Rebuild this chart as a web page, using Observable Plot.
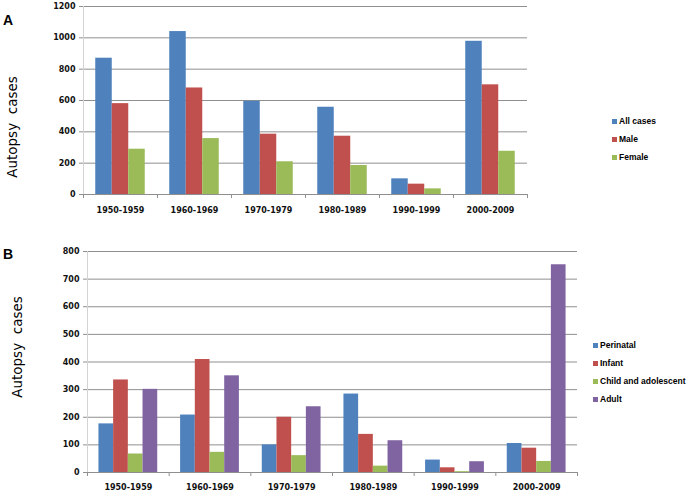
<!DOCTYPE html>
<html><head><meta charset="utf-8">
<script src="https://cdn.jsdelivr.net/npm/d3@7"></script>
<script src="https://cdn.jsdelivr.net/npm/@observablehq/plot@0.6"></script>
<style>
body{margin:0;background:#fff;}
#wrap{position:relative;width:689px;height:494px;overflow:hidden;font-family:"DejaVu Sans",sans-serif;}
.panel{position:absolute;left:0;}
.letter{position:absolute;font:bold 14px "Liberation Sans",Arial,sans-serif;line-height:14px;}
.ytitle{position:absolute;font-size:13.5px;line-height:14px;white-space:pre;transform:translate(-50%,-50%) rotate(-90deg);}
.legend{position:absolute;font:bold 8.5px "Liberation Sans",Arial,sans-serif;}
.legend div{position:absolute;white-space:nowrap;line-height:10px;height:10px;left:0;}
.legend span{display:inline-block;width:5px;height:5px;margin-right:2px;vertical-align:0px;}
</style>
</head><body>
<div id="wrap">
  <div id="panelA" class="panel" style="top:0"></div>
  <div id="panelB" class="panel" style="top:220px"></div>
  <div class="letter" style="left:3px;top:13px">A</div>
  <div class="letter" style="left:3px;top:247px">B</div>
  <div class="ytitle" style="left:12px;top:127px">Autopsy  cases</div>
  <div class="ytitle" style="left:17px;top:347px">Autopsy  cases</div>
  <div id="legendA" class="legend" style="left:612px;top:116px"></div>
  <div id="legendB" class="legend" style="left:593px;top:340px"></div>
</div>
<script>
// ---- data ----
const periods = ["1950-1959","1960-1969","1970-1979","1980-1989","1990-1999","2000-2009"];

const seriesA = ["All cases","Male","Female"];
const allCases = [870,1040,595,557,100,978];
const male     = [580,680,385,372,66,700];
const female   = [289,357,209,185,36,276];
const ticksA = [0,200,400,600,800,1000,1200];

const seriesB = ["Perinatal","Infant","Child and adolescent","Adult"];
const perinatal = [176,208,100,284,45,105];
const infant    = [335,409,200,138,17,88];
const child     = [67,73,61,23,3,40];
const adult     = [301,350,238,115,39,752];
const ticksB = [0,100,200,300,400,500,600,700,800];

// ---- styles ----
const colorsA = ["#4F81BD","#C0504D","#9BBB59"];
const colorsB = ["#4F81BD","#C0504D","#9BBB59","#8064A2"];
const gridColor = "#8f8f8f";
const axisLineColor = "#d4d4d4";

function buildRows(seriesNames, seriesValues){
  const rows = [];
  seriesNames.forEach((s, si) => {
    seriesValues[si].forEach((v, pi) => rows.push({period: periods[pi], pi, series: s, si, value: v}));
  });
  return rows;
}

function chart({rows, nSeries, barFrac, names, colors, ticks, height, marginTop, marginBottom, marginLeft, marginRight, labelPad}){
  const bw = barFrac;
  const start = (1 - bw * nSeries) / 2;
  return Plot.plot({
    width: 689, height, marginTop, marginBottom, marginLeft, marginRight,
    x: {domain: [0, periods.length], axis: null},
    y: {domain: [ticks[0], ticks[ticks.length-1]], axis: null},
    color: {domain: names, range: colors},
    style: {background: "transparent", overflow: "visible"},
    marks: [
      Plot.ruleY(ticks, {x1: 0, x2: periods.length, stroke: gridColor}),
      Plot.rectY(rows, {
        x1: d => d.pi + start + d.si * bw,
        x2: d => d.pi + start + (d.si + 1) * bw,
        y1: 0, y2: "value", fill: "series", inset: 0
      }),
      Plot.ruleX([0], {stroke: axisLineColor}),
      Plot.ruleY([0], {x1: 0, x2: periods.length, stroke: gridColor}),
      Plot.axisY(ticks, {tickSize: 4, tickPadding: 4, stroke: gridColor, fill: "#111",
        tickFormat: d => String(d),
        fontSize: 8, fontWeight: "bold", fontFamily: "DejaVu Sans", label: null}),
      Plot.axisX(d3.range(0, periods.length + 1), {tickSize: 4, tickFormat: () => "", stroke: gridColor, label: null}),
      Plot.axisX(periods.map((_, i) => i + 0.5), {tickSize: 0, tickPadding: labelPad,
        tickFormat: v => periods[Math.floor(v)], fill: "#111",
        fontSize: 8, fontWeight: "bold", fontFamily: "DejaVu Sans", label: null})
    ]
  });
}

document.getElementById("panelA").append(chart({
  rows: buildRows(seriesA, [allCases, male, female]), nSeries: 3, barFrac: 0.223,
  names: seriesA, colors: colorsA, ticks: ticksA,
  height: 220, marginTop: 6, marginBottom: 26, marginLeft: 83, marginRight: 162, labelPad: 13
}));

document.getElementById("panelB").append(chart({
  rows: buildRows(seriesB, [perinatal, infant, child, adult]), nSeries: 4, barFrac: 0.18,
  names: seriesB, colors: colorsB, ticks: ticksB,
  height: 274, marginTop: 31, marginBottom: 22, marginLeft: 87, marginRight: 112, labelPad: 12
}));

function legend(id, names, colors){
  const el = document.getElementById(id);
  names.forEach((n, i) => {
    const row = document.createElement("div");
    row.style.top = (i * 18) + "px";
    row.innerHTML = `<span style="background:${colors[i]}"></span>${n}`;
    el.append(row);
  });
}
legend("legendA", seriesA, colorsA);
legend("legendB", seriesB, colorsB);
</script>
</body></html>
